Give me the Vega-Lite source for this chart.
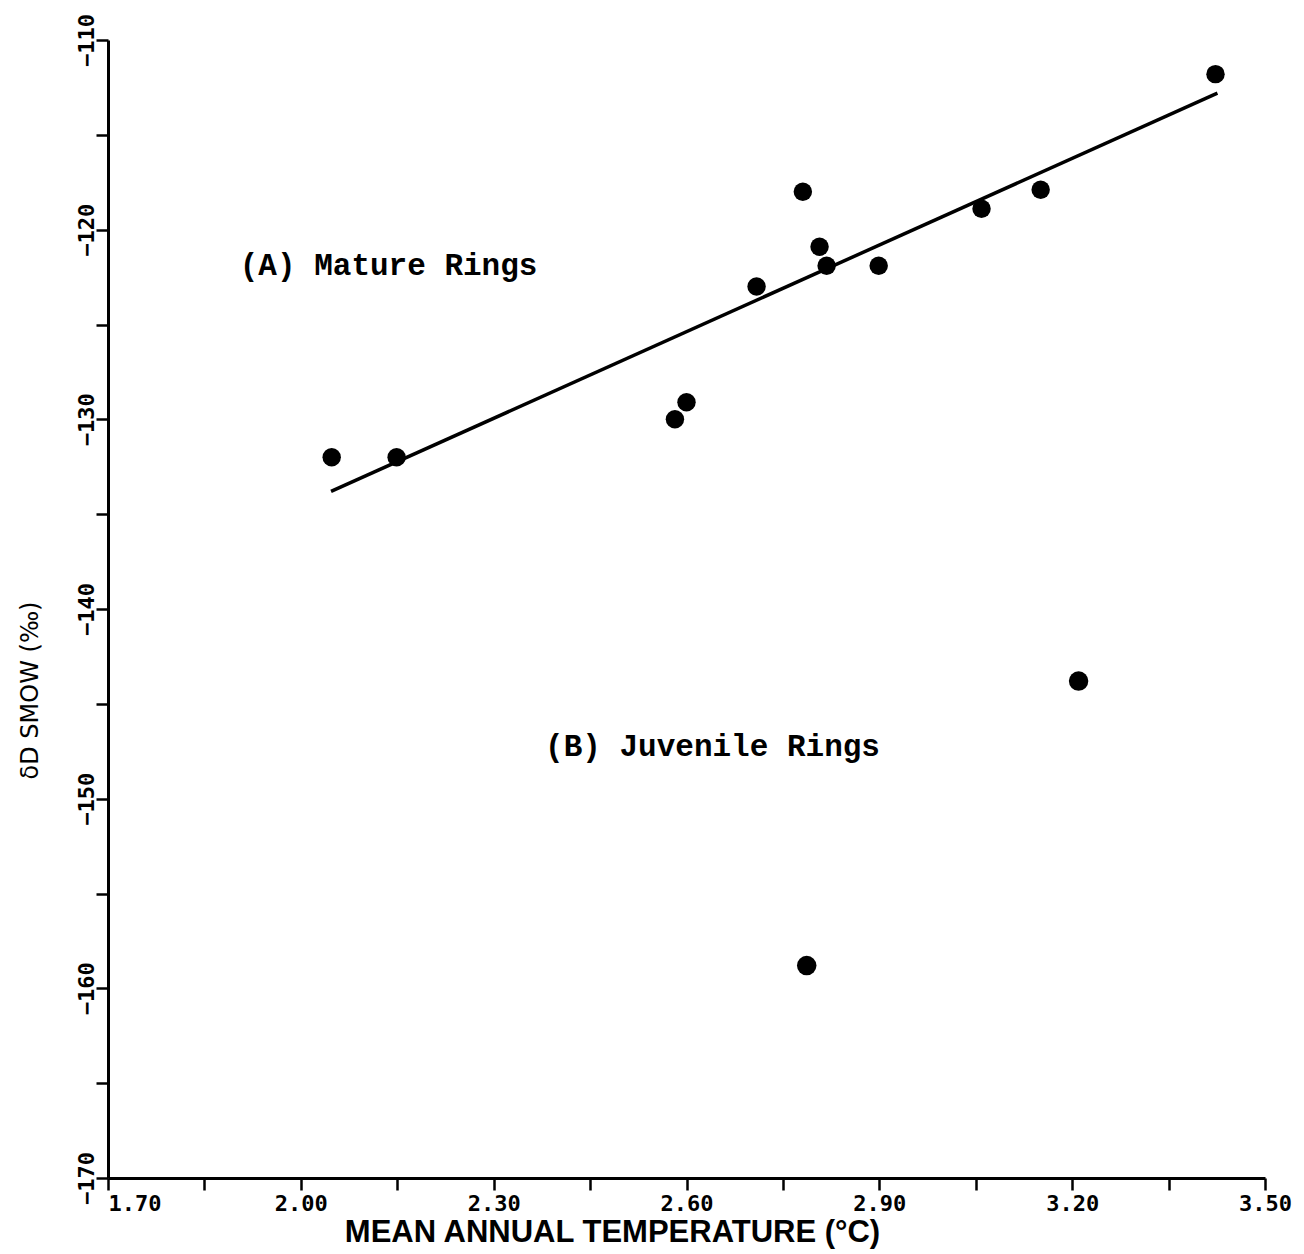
{
  "$schema": "https://vega.github.io/schema/vega-lite/v6.json",
  "width": 1157,
  "height": 1138,
  "autosize": {"type": "none"},
  "padding": {"left": 108, "top": 40, "right": 39, "bottom": 76},
  "background": "white",
  "config": {
    "view": {"stroke": null},
    "axis": {
      "grid": false,
      "domainColor": "black",
      "domainWidth": 3,
      "tickColor": "black",
      "tickWidth": 2.5,
      "tickSize": 12,
      "labelColor": "black",
      "labelFont": "DejaVu Sans Mono",
      "labelFontWeight": "bold",
      "labelFontSize": 22,
      "titleColor": "black"
    }
  },
  "datasets": {
    "mature": [
      {"temp": 2.048, "dD": -132.0},
      {"temp": 2.149, "dD": -132.0},
      {"temp": 2.582, "dD": -130.0},
      {"temp": 2.600, "dD": -129.1},
      {"temp": 2.709, "dD": -123.0},
      {"temp": 2.781, "dD": -118.0},
      {"temp": 2.807, "dD": -120.9},
      {"temp": 2.818, "dD": -121.9},
      {"temp": 2.899, "dD": -121.9},
      {"temp": 3.059, "dD": -118.9},
      {"temp": 3.151, "dD": -117.9},
      {"temp": 3.423, "dD": -111.8}
    ],
    "juvenile": [
      {"temp": 3.210, "dD": -143.8},
      {"temp": 2.787, "dD": -158.8}
    ],
    "fit": [
      {"temp": 2.047, "dD": -133.8},
      {"temp": 3.426, "dD": -112.8}
    ],
    "labels": [
      {"temp": 1.905, "dD": -121.9, "text": "(A) Mature Rings"},
      {"temp": 2.38, "dD": -147.3, "text": "(B) Juvenile Rings"}
    ]
  },
  "layer": [
    {
      "data": {"name": "fit"},
      "mark": {"type": "line", "color": "black", "strokeWidth": 3.5},
      "encoding": {
        "x": {
          "field": "temp", "type": "quantitative",
          "scale": {"domain": [1.7, 3.5], "nice": false, "zero": false},
          "axis": {
            "values": [1.7, 1.85, 2.0, 2.15, 2.3, 2.45, 2.6, 2.75, 2.9, 3.05, 3.2, 3.35, 3.5],
            "labelExpr": "indexof(['1.70','2.00','2.30','2.60','2.90','3.20','3.50'], format(datum.value,'.2f')) >= 0 ? format(datum.value,'.2f') : ''",
            "labelAlign": {"condition": {"test": "datum.value < 1.75", "value": "left"}, "value": "center"},
            "labelPadding": 3,
            "labelFlush": false,
            "labelOverlap": false,
            "title": "MEAN ANNUAL TEMPERATURE (°C)",
            "titleFont": "Liberation Sans",
            "titleFontSize": 31,
            "titleFontWeight": "bold",
            "titleX": 504,
            "titleY": 54,
            "titleBaseline": "middle",
            "titleAlign": "center"
          }
        },
        "y": {
          "field": "dD", "type": "quantitative",
          "scale": {"domain": [-170, -110], "nice": false, "zero": false},
          "axis": {
            "values": [-170, -165, -160, -155, -150, -145, -140, -135, -130, -125, -120, -115, -110],
            "labelExpr": "datum.value % 10 == 0 ? format(datum.value, 'd') : ''",
            "labelAngle": -90,
            "labelAlign": "center",
            "labelBaseline": "middle",
            "labelPadding": 10,
            "labelOverlap": false,
            "title": "δD SMOW (‰)",
            "titleFont": "DejaVu Sans",
            "titleFontSize": 24,
            "titleFontWeight": "normal",
            "titleX": -78,
            "titleY": 650,
            "titleAngle": -90,
            "titleAlign": "center",
            "titleBaseline": "middle"
          }
        }
      }
    },
    {
      "data": {"name": "mature"},
      "mark": {"type": "point", "shape": "circle", "filled": true, "color": "black", "size": 340, "opacity": 1},
      "encoding": {
        "x": {"field": "temp", "type": "quantitative"},
        "y": {"field": "dD", "type": "quantitative"}
      }
    },
    {
      "data": {"name": "juvenile"},
      "mark": {"type": "point", "shape": "circle", "filled": true, "color": "black", "size": 380, "opacity": 1},
      "encoding": {
        "x": {"field": "temp", "type": "quantitative"},
        "y": {"field": "dD", "type": "quantitative"}
      }
    },
    {
      "data": {"name": "labels"},
      "mark": {"type": "text", "align": "left", "baseline": "middle", "font": "Liberation Mono", "fontWeight": "bold", "fontSize": 31, "color": "black"},
      "encoding": {
        "x": {"field": "temp", "type": "quantitative"},
        "y": {"field": "dD", "type": "quantitative"},
        "text": {"field": "text", "type": "nominal"}
      }
    }
  ]
}
